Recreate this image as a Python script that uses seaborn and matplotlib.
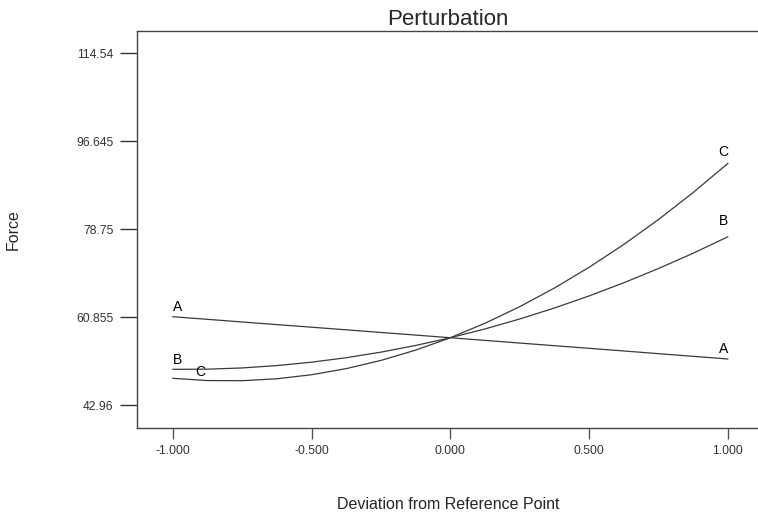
# Perturbation plot: force vs deviation from the reference point for factors A, B, C

import matplotlib.pyplot as plt
import pandas as pd
import seaborn as sns

deviation = [-1.0, -0.875, -0.75, -0.625, -0.5, -0.375, -0.25, -0.125, 0.0,
             0.125, 0.25, 0.375, 0.5, 0.625, 0.75, 0.875, 1.0]
force_a = [60.96, 60.43, 59.89, 59.36, 58.83, 58.30, 57.76, 57.23, 56.69,
           56.15, 55.61, 55.07, 54.54, 54.00, 53.45, 52.91, 52.37]
force_b = [50.27, 50.30, 50.55, 51.03, 51.72, 52.63, 53.76, 55.12, 56.69,
           58.48, 60.50, 62.73, 65.19, 67.86, 70.76, 73.87, 77.21]
force_c = [48.45, 47.99, 47.96, 48.35, 49.17, 50.41, 52.08, 54.17, 56.69,
           59.63, 63.00, 66.79, 71.01, 75.65, 80.72, 86.21, 92.13]
factors = ['A', 'B', 'C']
y_ticks = [42.96, 60.855, 78.75, 96.645, 114.54]
y_tick_labels = ['42.96', '60.855', '78.75', '96.645', '114.54']
x_ticks = [-1.0, -0.5, 0.0, 0.5, 1.0]
x_tick_labels = ['-1.000', '-0.500', '0.000', '0.500', '1.000']

series = {'A': force_a, 'B': force_b, 'C': force_c}
df = pd.concat([pd.DataFrame({'Deviation': deviation, 'Force': series[f], 'Factor': f})
                for f in factors], ignore_index=True)

sns.set_theme(style='white')
plt.rcParams['font.family'] = ['Liberation Sans', 'DejaVu Sans']

fig = plt.figure(figsize=(7.58, 5.13), dpi=100)
ax = fig.add_axes([0.1807, 0.1657, 0.8206, 0.7748])

sns.lineplot(data=df, x='Deviation', y='Force', hue='Factor', palette=['#3a3a3a'] * 3,
             linewidth=0.9, legend=False, sort=False, ax=ax)

ax.set_xlim(-1.1286, 1.1117)
ax.set_ylim(38.35, 119.11)
ax.set_xticks(x_ticks)
ax.set_xticklabels(x_tick_labels)
ax.set_yticks(y_ticks)
ax.set_yticklabels(y_tick_labels)
ax.tick_params(axis='x', direction='out', length=8, width=1, color='#555555',
               labelsize=8.7, pad=4, labelcolor='#333333', bottom=True)
ax.tick_params(axis='y', direction='out', length=12, width=1, color='#333333',
               labelsize=8.7, pad=5, labelcolor='#333333', left=True)

for side in ['left', 'bottom', 'top']:
    ax.spines[side].set_color('#444444')
    ax.spines[side].set_linewidth(1)
ax.spines['right'].set_visible(False)

ax.set_title('Perturbation', fontsize=16, pad=4)
ax.set_xlabel('Deviation from Reference Point', fontsize=11.5, labelpad=29)
ax.set_ylabel('Force', fontsize=11.5, labelpad=40)

# curve labels at both ends
lab = dict(fontsize=10, color='black')
ax.annotate('A', (deviation[0], force_a[0]), xytext=(0, 2), textcoords='offset points',
            ha='left', va='bottom', **lab)
ax.annotate('A', (deviation[-1], force_a[-1]), xytext=(0, 2), textcoords='offset points',
            ha='right', va='bottom', **lab)
ax.annotate('B', (deviation[0], force_b[0]), xytext=(0, 2), textcoords='offset points',
            ha='left', va='bottom', **lab)
ax.annotate('B', (deviation[-1], force_b[-1]), xytext=(0, 6), textcoords='offset points',
            ha='right', va='bottom', **lab)
ax.annotate('C', (-0.9, force_c[1]), xytext=(0, 1), textcoords='offset points',
            ha='center', va='bottom', **lab)
ax.annotate('C', (deviation[-1], force_c[-1]), xytext=(0, 3), textcoords='offset points',
            ha='right', va='bottom', **lab)

fig.savefig('out.png', dpi=100)
